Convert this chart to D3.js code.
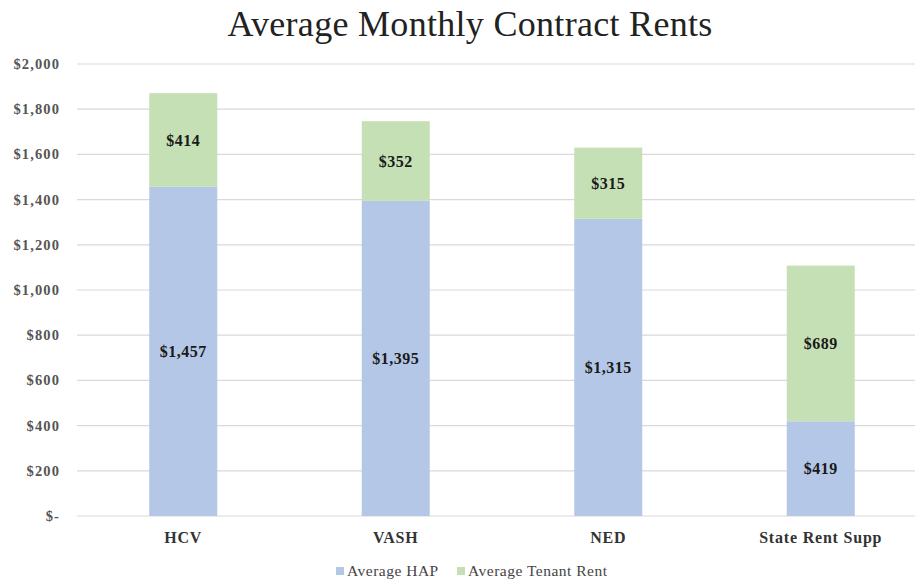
<!DOCTYPE html>
<html lang="en">
<head>
    <meta charset="UTF-8">
    <title>Average Monthly Contract Rents</title>
    <script src="https://d3js.org/d3.v7.min.js"></script>
    <style>
        body { margin: 0; background: #fff; }
        svg { display: block; font-family: "Liberation Serif", "DejaVu Serif", serif; }
    </style>
</head>
<body>
    <svg id="chart"></svg>
    <script>
        const categories = ["HCV", "VASH", "NED", "State Rent Supp"];
        const hapValues = [1457, 1395, 1315, 419];
        const tenantValues = [414, 352, 315, 689];
        const yTicks = [0, 200, 400, 600, 800, 1000, 1200, 1400, 1600, 1800, 2000];
        const seriesNames = ["Average HAP", "Average Tenant Rent"];
        const seriesColors = ["#b4c7e7", "#c5e0b4"];

        const width = 915, height = 582;
        const svg = d3.select("#chart").attr("width", width).attr("height", height);

        const x = d3.scaleBand().domain(categories).range([77, 927]).paddingInner(0.68).paddingOuter(0.34);
        const y = d3.scaleLinear().domain([0, 2000]).range([516, 64]);

        const fmt = v => v === 0 ? "$-" : "$" + d3.format(",")(v);

        // title
        svg.append("text")
            .attr("x", 470).attr("y", 36)
            .attr("text-anchor", "middle")
            .attr("font-size", 36)
            .attr("letter-spacing", 0.3)
            .attr("fill", "#222")
            .text("Average Monthly Contract Rents");

        // gridlines
        svg.append("g").selectAll("line")
            .data(yTicks)
            .join("line")
            .attr("x1", 77).attr("x2", 915)
            .attr("y1", d => y(d)).attr("y2", d => y(d))
            .attr("stroke", "#d9d9d9").attr("stroke-width", 1.2);

        // y axis labels
        svg.append("g").selectAll("text")
            .data(yTicks)
            .join("text")
            .attr("x", 60).attr("y", d => y(d))
            .attr("dy", "0.35em")
            .attr("text-anchor", "end")
            .attr("font-size", 14.5).attr("font-weight", "bold")
            .attr("letter-spacing", 1.1)
            .attr("fill", "#555")
            .text(fmt);

        // stacked data
        const rows = categories.map((c, i) => ({ cat: c, hap: hapValues[i], tenant: tenantValues[i] }));
        const stack = d3.stack().keys(["hap", "tenant"])(rows);

        const layers = svg.append("g").selectAll("g")
            .data(stack)
            .join("g")
            .attr("fill", (d, i) => seriesColors[i]);

        layers.selectAll("rect")
            .data(d => d)
            .join("rect")
            .attr("x", d => x(d.data.cat))
            .attr("width", x.bandwidth())
            .attr("y", d => y(d[1]))
            .attr("height", d => y(d[0]) - y(d[1]));

        layers.selectAll("text")
            .data(d => d)
            .join("text")
            .attr("x", d => x(d.data.cat) + x.bandwidth() / 2)
            .attr("y", d => y((d[0] + d[1]) / 2))
            .attr("dy", "0.35em")
            .attr("text-anchor", "middle")
            .attr("font-size", 16).attr("font-weight", "bold")
            .attr("letter-spacing", 0.5)
            .attr("fill", "#1a1a1a")
            .text(d => fmt(d[1] - d[0]));

        // category labels
        svg.append("g").selectAll("text")
            .data(categories)
            .join("text")
            .attr("x", d => x(d) + x.bandwidth() / 2)
            .attr("y", 537)
            .attr("dy", "0.35em")
            .attr("text-anchor", "middle")
            .attr("font-size", 16).attr("font-weight", "bold")
            .attr("letter-spacing", 0.8)
            .attr("fill", "#333")
            .text(d => d);

        // legend
        const legendX = [336, 457];
        const legend = svg.append("g").selectAll("g")
            .data(seriesNames)
            .join("g")
            .attr("transform", (d, i) => `translate(${legendX[i]},571)`);
        legend.append("rect")
            .attr("x", 0).attr("y", -4)
            .attr("width", 8).attr("height", 8)
            .attr("fill", (d, i) => seriesColors[i]);
        legend.append("text")
            .attr("x", 11).attr("dy", "0.35em")
            .attr("font-size", 15.5)
            .attr("letter-spacing", 0.5)
            .attr("fill", "#444")
            .text(d => d);
    </script>
</body>
</html>
